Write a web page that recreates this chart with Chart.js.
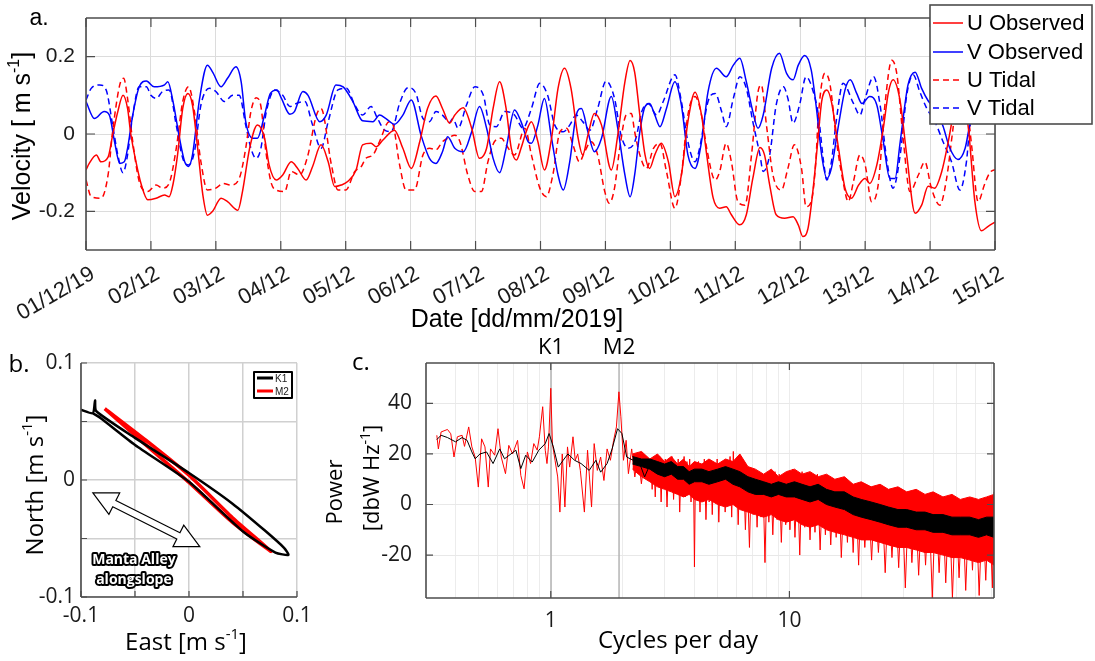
<!DOCTYPE html>
<html>
<head>
<meta charset="utf-8">
<script src="https://cdn.jsdelivr.net/npm/chart.js@4.4.0/dist/chart.umd.min.js"></script>
<style>
  body { margin: 0; background: #fff; width: 1095px; height: 661px; position: relative; overflow: hidden; }
  .panel { position: absolute; }
</style>
</head>
<body>
<div class="panel" style="left:0;top:0;width:1095px;height:340px"><canvas id="velChart"></canvas></div>
<div class="panel" style="left:0;top:330px;width:330px;height:331px"><canvas id="ellChart"></canvas></div>
<div class="panel" style="left:315px;top:330px;width:780px;height:331px"><canvas id="psdChart"></canvas></div>
<script>
// ---------- panel a: velocity time series (x = days since 01/12/19) ----------
const dateLabels = ['01/12/19','02/12','03/12','04/12','05/12','06/12','07/12','08/12','09/12','10/12','11/12','12/12','13/12','14/12','15/12']
const velTicks = [-0.2, 0, 0.2]

const uObs = [[0,-0.093],[0.05,-0.076],[0.16,-0.054],[0.23,-0.072],[0.34,-0.06],[0.41,-0.003],[0.49,0.058],[0.57,0.10],[0.64,0.066],[0.69,0],[0.77,-0.072],[0.85,-0.13],[0.95,-0.17],[1.08,-0.166],[1.21,-0.158],[1.28,-0.162],[1.34,-0.13],[1.41,-0.054],[1.49,0.066],[1.57,0.105],[1.64,0.075],[1.72,-0.037],[1.80,-0.158],[1.87,-0.21],[1.95,-0.20],[2.08,-0.166],[2.18,-0.175],[2.34,-0.197],[2.41,-0.149],[2.52,-0.037],[2.64,0.023],[2.75,-0.011],[2.82,-0.08],
  [2.93,-0.119],[3.03,-0.106],[3.16,-0.072],[3.26,-0.089],[3.39,-0.119],[3.49,-0.084],[3.62,-0.028],[3.73,-0.072],[3.83,-0.136],[3.93,-0.132],[4.03,-0.123],[4.16,-0.093],[4.26,-0.028],[4.39,-0.024],[4.47,-0.033],[4.57,-0.016],[4.75,0.01],[4.88,-0.037],[5.01,-0.089],[5.14,-0.02],[5.26,0.066],[5.39,0.098],[5.49,0.066],[5.6,0.028],
  [5.68,0.049],[5.81,0.068],[5.94,0.015],[6.06,-0.063],[6.17,-0.037],[6.27,0.066],[6.37,0.135],[6.47,0.066],[6.55,-0.037],[6.63,-0.067],[6.7,-0.037],[6.78,0.006],[6.86,0.032],[6.96,-0.02],[7.06,-0.093],[7.17,-0.011],[7.27,0.118],[7.37,0.17],[7.47,0.118],[7.58,-0.011],[7.65,-0.054],[7.73,-0.003],[7.83,0.053],[7.94,0.023],[8.09,-0.093],[8.19,-0.003],[8.3,0.135],[8.38,0.19],
  [8.45,0.16],[8.53,0.049],[8.61,-0.054],[8.68,-0.089],[8.76,-0.054],[8.86,-0.024],[8.97,-0.072],[9.07,-0.162],[9.17,-0.106],[9.27,0.032],[9.38,0.108],[9.48,0.049],[9.56,-0.054],[9.66,-0.166],[9.76,-0.192],[9.86,-0.188],[9.94,-0.209],[10.07,-0.235],[10.17,-0.209],[10.27,-0.115],[10.38,-0.035],[10.45,-0.054],[10.53,-0.132],[10.63,-0.209],[10.76,-0.218],[10.89,-0.214],[10.97,-0.235],[11.04,-0.265],[11.12,-0.244],[11.2,-0.14],
  [11.27,-0.02],[11.33,0.084],[11.41,0.114],[11.48,0.084],[11.59,-0.037],[11.69,-0.14],[11.79,-0.166],[11.9,-0.132],[12.0,-0.115],[12.07,-0.128],[12.18,-0.08],[12.28,0.015],[12.36,0.109],[12.43,0.14],[12.54,0.084],[12.64,-0.054],[12.77,-0.205],[12.87,-0.184],[12.97,-0.135],[13.07,-0.14],[13.18,-0.097],[13.28,-0.02],[13.38,0.07],[13.48,0.12],[13.59,0.015],[13.69,-0.175],[13.79,-0.25],[13.9,-0.238],[14.0,-0.228]]

const vObs = [[0,0.084],[0.13,0.04],[0.28,0.058],[0.36,0.049],[0.44,-0.02],[0.52,-0.076],[0.59,-0.072],[0.64,-0.037],[0.72,0.049],[0.82,0.122],[0.93,0.137],[1.05,0.122],[1.21,0.127],[1.26,0.135],[1.34,0.084],[1.44,-0.011],[1.52,-0.072],[1.58,-0.084],[1.64,-0.054],[1.75,0.092],[1.87,0.178],[1.95,0.16],[2.08,0.122],[2.18,0.144],[2.31,0.174],[2.39,0.135],[2.46,0.032],[2.57,-0.011],[2.64,-0.011],[2.75,0.049],[2.84,0.105],
  [2.94,0.114],[3.01,0.092],[3.14,0.051],[3.21,0.058],[3.34,0.11],[3.42,0.10],[3.6,0.032],[3.7,0.049],[3.85,0.127],[3.96,0.122],[4.11,0.084],[4.26,0.034],[4.42,0.032],[4.52,0.049],[4.62,0.04],[4.75,0.025],[4.88,0.049],[5.01,0.088],[5.16,-0.003],[5.29,-0.063],[5.39,-0.076],[5.49,-0.046],[5.57,-0.007],
  [5.68,-0.037],[5.81,-0.046],[5.94,0.006],[6.06,0.071],[6.17,0.015],[6.27,-0.063],[6.37,-0.10],[6.47,-0.037],[6.6,0.062],[6.7,0.032],[6.81,-0.02],[6.86,-0.024],[6.96,0.023],[7.06,0.092],[7.17,-0.011],[7.27,-0.106],[7.35,-0.145],[7.45,-0.072],[7.55,0.049],[7.63,0.066],[7.73,0.006],[7.83,-0.046],[7.94,-0.011],[8.09,0.097],[8.19,0.015],[8.3,-0.106],[8.38,-0.162],
  [8.45,-0.106],[8.53,0.006],[8.61,0.071],[8.68,0.079],[8.76,0.049],[8.84,0.019],[8.94,0.066],[9.07,0.135],[9.17,0.075],[9.27,-0.054],[9.38,-0.089],[9.48,-0.02],[9.58,0.109],[9.71,0.17],[9.86,0.148],[9.97,0.178],[10.07,0.196],[10.17,0.135],[10.27,0.058],[10.35,0.015],[10.43,0.049],[10.56,0.17],[10.68,0.209],[10.79,0.157],[10.89,0.14],[10.97,0.178],[11.07,0.203],[11.17,0.165],
  [11.25,0.066],[11.33,-0.054],[11.41,-0.115],[11.48,-0.089],[11.59,0.023],[11.69,0.114],[11.77,0.14],[11.87,0.105],[11.95,0.079],[12.07,0.097],[12.18,0.075],[12.28,-0.02],[12.38,-0.115],[12.46,-0.115],[12.54,-0.02],[12.66,0.127],[12.77,0.16],[12.87,0.118],[12.97,0.086],[13.1,0.06],[13.2,0.02],[13.3,-0.035],[13.43,-0.066],[13.54,-0.037],[13.62,0.03],[13.75,0.08],[13.88,0.1],[14.0,0.1]]

const uTid = [[0,-0.119],[0.08,-0.162],[0.23,-0.166],[0.34,-0.106],[0.41,0.006],[0.52,0.127],[0.58,0.144],[0.64,0.092],[0.72,-0.02],[0.82,-0.123],[0.95,-0.149],[1.08,-0.132],[1.18,-0.14],[1.28,-0.128],[1.39,-0.037],[1.49,0.084],[1.58,0.122],[1.67,0.058],[1.77,-0.072],[1.87,-0.145],[2.0,-0.14],[2.11,-0.128],[2.23,-0.132],[2.36,-0.115],[2.46,-0.037],[2.54,0.058],[2.62,0.094],[2.69,0.075],[2.77,-0.045],
  [2.85,-0.125],[2.93,-0.145],[3.06,-0.149],[3.16,-0.097],[3.29,-0.106],[3.41,-0.06],[3.55,0.049],[3.62,0.066],[3.78,-0.08],[3.88,-0.145],[4.0,-0.145],[4.14,-0.097],[4.24,-0.084],[4.31,-0.063],[4.42,-0.054],[4.52,-0.02],[4.67,0.032],[4.72,0.028],[4.83,-0.08],[4.93,-0.145],[5.06,-0.145],[5.19,-0.054],[5.29,-0.037],[5.39,-0.041],[5.49,-0.02],[5.58,-0.01],
  [5.68,-0.003],[5.76,-0.02],[5.88,-0.106],[5.99,-0.149],[6.09,-0.149],[6.19,-0.072],[6.29,-0.02],[6.4,-0.011],[6.47,-0.028],[6.6,-0.054],[6.76,0.015],[6.86,-0.054],[6.99,-0.14],[7.09,-0.162],[7.19,-0.106],[7.3,0.006],[7.4,0.015],[7.5,-0.028],[7.6,-0.072],[7.68,-0.046],[7.78,-0.02],[7.88,-0.054],[7.99,-0.149],[8.06,-0.179],[8.14,-0.14],[8.22,-0.037],[8.32,0.049],[8.4,0.053],
  [8.45,0.006],[8.53,-0.054],[8.63,-0.089],[8.74,-0.037],[8.84,-0.024],[8.94,-0.097],[9.07,-0.192],[9.17,-0.106],[9.27,0.049],[9.38,0.097],[9.48,0.049],[9.56,-0.037],[9.69,-0.119],[9.76,-0.097],[9.86,-0.024],[9.94,-0.072],[10.04,-0.175],[10.15,-0.184],[10.25,-0.054],[10.35,0.109],[10.4,0.127],[10.48,0.023],[10.58,-0.106],[10.71,-0.145],[10.81,-0.089],[10.91,-0.028],[11.02,-0.089],[11.09,-0.188],[11.17,-0.175],[11.24,-0.072],
  [11.28,0.049],[11.38,0.157],[11.46,0.127],[11.56,-0.02],[11.66,-0.123],[11.74,-0.175],[11.82,-0.123],[11.92,-0.054],[12.0,-0.08],[12.1,-0.175],[12.2,-0.132],[12.31,0.084],[12.41,0.191],[12.49,0.153],[12.59,-0.02],[12.69,-0.149],[12.82,-0.106],[12.92,-0.072],[13.02,-0.14],[13.15,-0.184],[13.25,-0.12],[13.35,0.01],[13.45,0.14],[13.55,0.1],[13.64,-0.03],[13.74,-0.175],[13.84,-0.13],[13.92,-0.1],[14.0,-0.092]]

const vTid = [[0,0.088],[0.08,0.118],[0.21,0.127],[0.31,0.114],[0.41,0.023],[0.49,-0.054],[0.57,-0.10],[0.64,-0.054],[0.72,0.049],[0.82,0.122],[0.93,0.122],[1.0,0.10],[1.08,0.092],[1.18,0.11],[1.28,0.114],[1.39,0.023],[1.49,-0.063],[1.58,-0.08],[1.67,-0.046],[1.77,0.075],[1.9,0.118],[2.0,0.11],[2.13,0.084],[2.26,0.10],[2.36,0.10],[2.46,0.023],[2.54,-0.037],[2.62,-0.063],[2.69,-0.04],[2.78,0.06],
  [2.91,0.114],[3.03,0.10],[3.14,0.071],[3.24,0.079],[3.37,0.084],[3.49,0.023],[3.62,-0.037],[3.73,0.032],[3.88,0.114],[4.01,0.118],[4.14,0.075],[4.26,0.049],[4.39,0.071],[4.49,0.04],[4.6,0.01],[4.7,0.006],[4.83,0.079],[4.96,0.12],[5.08,0.105],[5.19,0.04],[5.29,0.032],[5.39,0.058],[5.49,0.049],[5.6,0.03],
  [5.65,0.04],[5.73,0.015],[5.86,0.075],[5.99,0.122],[6.12,0.10],[6.22,0.023],[6.32,0.019],[6.45,0.058],[6.6,0.049],[6.73,0.015],[6.86,0.066],[6.99,0.131],[7.11,0.10],[7.22,0.023],[7.35,0.006],[7.45,0.023],[7.55,0.049],[7.65,0.032],[7.76,0.01],[7.88,0.066],[8.01,0.137],[8.14,0.092],[8.24,-0.003],[8.35,-0.037],[8.42,-0.03],
  [8.47,-0.011],[8.56,0.058],[8.66,0.079],[8.79,0.049],[8.89,0.084],[9.07,0.153],[9.17,0.084],[9.27,-0.02],[9.38,-0.072],[9.45,-0.037],[9.58,0.084],[9.69,0.105],[9.79,0.058],[9.86,0.019],[9.97,0.092],[10.07,0.148],[10.17,0.118],[10.27,0.032],[10.38,-0.054],[10.43,-0.097],[10.53,-0.054],[10.63,0.075],[10.74,0.122],[10.81,0.092],[10.89,0.028],[10.99,0.075],[11.09,0.148],[11.2,0.11],
  [11.28,0.049],[11.36,-0.072],[11.41,-0.119],[11.48,-0.072],[11.56,0.04],[11.66,0.131],[11.82,0.079],[11.92,0.049],[12.0,0.092],[12.13,0.148],[12.23,0.075],[12.33,-0.063],[12.43,-0.14],[12.54,-0.054],[12.64,0.10],[12.74,0.153],[12.84,0.11],[12.95,0.066],[13.08,0.03],[13.2,-0.02],[13.33,-0.072],[13.46,-0.145],[13.56,-0.072],[13.61,0.015],[13.75,0.09],[13.88,0.1],[14.0,0.08]]

// ---------- panel b: tidal ellipses ----------
const ellTicks = [-0.1, -0.05, 0, 0.05, 0.1]
const ellLabelled = [-0.1, 0, 0.1]
const k1Ellipse = [[-0.1,0.060],[-0.089,0.057],[-0.087,0.068],[-0.086,0.059],[-0.05,0.036],[0,0.006],[0.04,-0.02],[0.07,-0.043],[0.088,-0.058],[0.092,-0.064],[0.08,-0.062],[0.05,-0.044],[0,-0.0015],[-0.05,0.030],[-0.082,0.053],[-0.089,0.057]]
const m2Ellipse = [[-0.078,0.061],[-0.04,0.034],[0,0.004],[0.04,-0.032],[0.076,-0.061],[0.04,-0.036],[0,-0.002],[-0.04,0.030],[-0.078,0.061]]
const alongslopeArrow = [[-0.089,-0.011],[0.010,-0.057]]
const alongslopeLabel = [-0.051, -0.068]

// ---------- panel c: power spectra [cycles/day, dbW/Hz] ----------
const psdTicks = [0.4,0.5,0.6,0.7,0.8,0.9,1,2,3,4,5,6,7,8,9,10,20,30,40,50,60,70]
const psdLabelled = [1, 10]
const powTicks = [-20, 0, 20, 40]
const tideNames = ['K1', 'M2']
const tideFreqs = [1.0027, 1.9323]

const psdRed = [[0.333,27.4],[0.338,22],[0.347,28.7],[0.369,29.7],[0.381,28],[0.393,18.8],[0.406,26.8],[0.425,27.4],[0.435,23],[0.453,30.7],[0.467,22.8],[0.482,18.8],[0.497,6.9],[0.513,26],[0.53,22.8],[0.547,6.9],[0.559,22],[0.582,19.5],[0.601,30],[0.62,18.8],[0.646,12.2],[0.667,23.4],[0.692,20],[0.726,25.4],[0.749,11.5],[0.773,6.2],[0.798,20.8],[0.823,16.2],[0.849,24.1],[0.877,21.5],[0.896,26.8],[0.925,38.7],[0.948,21.5],[0.964,16.2],[0.978,22.8],[1.0,46],[1.016,24],[1.042,17.5],[1.069,10.9],[1.092,-3],[1.117,20],[1.146,-1],[1.175,22.8],[1.2,14.8],[1.239,26.8],[1.266,17.5],[1.297,20],[1.33,13.5],[1.383,-3],[1.426,21.5],[1.482,-1],[1.52,24.1],[1.567,13.5],[1.618,18.8],[1.67,9.5],[1.722,22],[1.778,17.5],[1.834,25.4],[1.884,30.7],[1.93,44.6],[1.967,34.7],[2.017,17.5],[2.069,25.4],[2.115,12.2],[2.183,22],[2.25,10.9],[2.322,20],[2.397,8.2],[2.473,18.8],[2.553,14.8],
  [2.62,16],[2.66,6],[2.7,18],[2.74,3],[2.78,17],[2.82,9],[2.86,19],[2.9,1],[2.94,16],[2.98,7],[3.02,18],[3.07,-1],[3.12,17],[3.17,6],[3.22,19],[3.27,2],[3.32,15],[3.37,8],[3.42,18],[3.47,-3],[3.52,16],[3.57,5],[3.62,19],[3.67,3],[3.72,17],[3.77,7],[3.82,18],[3.87,1],[3.92,15],[3.97,6],[4.0,-24.7],[4.04,14],
  [4.1,2],[4.16,17],[4.22,-3],[4.28,16],[4.34,4],[4.4,18],[4.47,-6],[4.54,15],[4.61,1],[4.68,17],[4.75,-4],[4.82,16],[4.9,2],[4.98,18],[5.06,-7],[5.14,15],[5.22,0],[5.3,17],[5.38,-3],[5.46,16],[5.55,1],[5.64,19],[5.73,-5],[5.82,21],[5.91,0],[6.0,16],
  [6.1,-8],[6.2,15],[6.3,-2],[6.42,14],[6.54,-10],[6.66,12],[6.8,-17],[6.92,11],[7.05,-4],[7.18,13],[7.32,-9],[7.46,12],[7.6,-5],[7.75,11],[7.9,-23],[8.05,12],[8.2,-7],[8.36,11],[8.52,-12],[8.7,13],[8.88,-6],[9.06,12],[9.25,-15],[9.45,11],[9.65,-8],[9.85,13],
  [10.05,-10],[10.3,14],[10.55,-13],[10.8,12],[11.05,-20],[11.3,13],[11.6,-9],[11.9,12],[12.2,-14],[12.5,11],[12.8,-11],[13.1,12],[13.45,-18],[13.8,10],[14.15,-12],[14.5,11],[14.9,-16],[15.3,9],[15.7,-13],[16.1,10],[16.5,-21],[17,9],[17.5,-15],[18,8],[18.5,-19],[19,7],[19.5,-24],
  [20,8],[20.7,-17],[21.4,6],[22.1,-22],[22.8,6],[23.6,-19],[24.4,5],[25.2,-27],[26,5],[26.9,-21],[27.8,4],[28.7,-25],[29.6,5],[30.6,-33],[31.6,4],[32.6,-23],[33.7,3],[34.8,-28],[36,4],[37.2,-24],[38.4,2],[39.7,-37],[41,3],[42.4,-27],[43.8,2],[45.2,-31],[46.7,3],[48.2,-37],[49.8,1],[51.4,-29],[53.1,2],[54.8,-34],[56.6,1],[58.5,-26],[60.4,2],[62.4,-36],[64.4,1],[66.5,-30],[68.7,3],[70.9,-33],[72,5]]

const psdBlack = [[0.333,25.7],[0.347,27.4],[0.369,26.5],[0.399,24.8],[0.425,26.5],[0.446,25.4],[0.467,20.8],[0.482,18.1],[0.505,20],[0.538,20.8],[0.573,16.2],[0.611,22],[0.64,18.1],[0.681,20],[0.714,21.5],[0.749,14.2],[0.785,19.5],[0.836,16.8],[0.891,21.5],[0.948,24.1],[0.984,28.1],[1.025,22.8],[1.075,14.8],[1.127,17.5],[1.18,20],[1.258,17.5],[1.34,16.2],[1.449,13.5],[1.545,17.5],[1.618,12.8],[1.722,16.2],[1.807,22],[1.905,30],[1.986,28.1],[2.081,18.8],[2.216,17.5],[2.36,16.2],[2.473,10.9],[2.576,14.8]]

// dense high-frequency part: ragged envelopes of the red and black bands
const bandFreq = [2.2, 2.4, 2.6, 2.8, 3.0, 3.2, 3.4, 3.6, 3.8, 4.0, 4.3, 4.6, 5.0, 5.4, 5.8, 6.2, 6.7, 7.2, 7.8, 8.4, 9.0, 9.7, 10.5, 11.3, 12.2, 13.2, 14.3, 15.5, 17, 18.5, 20, 22, 24, 26, 28.5, 31, 34, 37, 40, 44, 48, 52, 57, 62, 67, 72]
const redHi   = [20, 21, 18, 20, 17, 19, 16, 18, 15, 17, 16, 18, 16, 18, 17, 20, 15, 14, 12, 14, 11, 13, 14, 12, 13, 11, 12, 10, 11, 8, 9, 7, 8, 6, 7, 5, 6, 4, 5, 3, 4, 2, 3, 2, 3, 4]
const redLo   = [14, 11, 9, 7, 6, 5, 4, 3, 4, 2, 1, 2, 0, -1, 0, -2, -3, -4, -5, -4, -6, -7, -6, -8, -9, -8, -10, -11, -12, -13, -14, -14, -15, -16, -17, -17, -18, -19, -19, -20, -21, -21, -22, -23, -22, -24]
const blackHi = [19, 18, 18, 17, 16, 17, 15, 15, 13, 14, 14, 13, 14, 15, 14, 13, 11, 10, 9, 8, 9, 8, 9, 8, 7, 8, 6, 5, 5, 3, 2, 1, 0, -1, -2, -2, -3, -3, -4, -4, -5, -5, -5, -6, -5, -5]
const blackLo = [16, 15, 14, 12, 11, 12, 10, 10, 8, 9, 9, 8, 9, 10, 8, 7, 5, 4, 4, 3, 4, 3, 3, 2, 1, 2, 0, -1, -2, -4, -5, -6, -7, -8, -9, -9, -10, -10, -11, -11, -12, -12, -12, -13, -12, -13]

// ---------- helpers ----------
const FA = '"Liberation Sans", Arial, sans-serif'
const FB = '"Open Sans", "Noto Sans", sans-serif'
const AXIS = '#4d4d4d'

const pairs = arr => arr.map(([x, y]) => ({ x: x, y: y }))
const zip = (xs, ys) => xs.map((x, i) => ({ x: x, y: ys[i] }))

// fixed axis box sizes so the plot areas land where the figure has them
const fixBox = size => s => {
  if (s.isHorizontal()) s.height = size
  else s.width = size
  s.paddingLeft = 0; s.paddingRight = 0; s.paddingTop = 0; s.paddingBottom = 0
}

// text with ^{..} superscripts, centred on (x, y)
function richText(ctx, str, x, y, size, family, rot, weight) {
  const parts = str.split(/\^\{([^}]*)\}/)
  const supSize = Math.round(size * 0.62)
  const w = weight || ''
  ctx.save()
  ctx.translate(x, y)
  if (rot) ctx.rotate(rot)
  ctx.textBaseline = 'middle'
  ctx.textAlign = 'left'
  ctx.fillStyle = '#000'
  const widths = parts.map((t, i) => {
    ctx.font = w + ' ' + (i % 2 ? supSize : size) + 'px ' + family
    return ctx.measureText(t).width
  })
  let cx = -widths.reduce((a, b) => a + b, 0) / 2
  parts.forEach((t, i) => {
    ctx.font = w + ' ' + (i % 2 ? supSize : size) + 'px ' + family
    ctx.fillText(t, cx, i % 2 ? -size * 0.33 : 0)
    cx += widths[i]
  })
  ctx.restore()
}

function innerTicks(chart, axis, values, len, sides) {
  const ctx = chart.ctx, a = chart.chartArea, s = chart.scales[axis]
  ctx.save()
  ctx.strokeStyle = AXIS
  ctx.lineWidth = 1.2
  ctx.beginPath()
  values.forEach(v => {
    const p = s.getPixelForValue(v)
    if (axis === 'x') {
      if (sides.includes('b')) { ctx.moveTo(p, a.bottom); ctx.lineTo(p, a.bottom - len) }
      if (sides.includes('t')) { ctx.moveTo(p, a.top); ctx.lineTo(p, a.top + len) }
    } else {
      if (sides.includes('l')) { ctx.moveTo(a.left, p); ctx.lineTo(a.left + len, p) }
      if (sides.includes('r')) { ctx.moveTo(a.right, p); ctx.lineTo(a.right - len, p) }
    }
  })
  ctx.stroke()
  ctx.restore()
}

function frame(chart, sides) {
  const ctx = chart.ctx, a = chart.chartArea
  ctx.save()
  ctx.strokeStyle = AXIS
  ctx.lineWidth = 1.6
  ctx.beginPath()
  if (sides.includes('t')) { ctx.moveTo(a.left, a.top); ctx.lineTo(a.right, a.top) }
  if (sides.includes('r')) { ctx.moveTo(a.right, a.top); ctx.lineTo(a.right, a.bottom) }
  if (sides.includes('b')) { ctx.moveTo(a.left, a.bottom); ctx.lineTo(a.right, a.bottom) }
  if (sides.includes('l')) { ctx.moveTo(a.left, a.top); ctx.lineTo(a.left, a.bottom) }
  ctx.stroke()
  ctx.restore()
}

Chart.defaults.animation = false
Chart.defaults.devicePixelRatio = 1
Chart.defaults.color = '#1a1a1a'
Chart.defaults.plugins.legend.display = false
Chart.defaults.plugins.tooltip.enabled = false
Chart.defaults.elements.point.radius = 0

// ---------- panel a ----------
const velSeries = [
  { label: 'U Observed', pts: uObs, color: '#ff0000', dash: [] },
  { label: 'V Observed', pts: vObs, color: '#0000ff', dash: [] },
  { label: 'U Tidal', pts: uTid, color: '#ff0000', dash: [6, 4] },
  { label: 'V Tidal', pts: vTid, color: '#0000ff', dash: [6, 4] }
]

const velDecor = {
  id: 'velDecor',
  afterDraw(chart) {
    const ctx = chart.ctx
    frame(chart, 'trbl')
    innerTicks(chart, 'x', dateLabels.map((_, i) => i), 9, 'bt')
    innerTicks(chart, 'y', velTicks, 9, 'lr')
    richText(ctx, 'a.', 39, 19, 23, FA)
    richText(ctx, 'Velocity [ m s^{-1}]', 23, 136, 25, FA, -Math.PI / 2)
    richText(ctx, 'Date [dd/mm/2019]', 517, 320, 25, FA)
    // legend box in the top right corner
    const lx = 930, ly = 5, lw = 162, lh = 119
    ctx.save()
    ctx.fillStyle = '#fff'
    ctx.fillRect(lx, ly, lw, lh)
    ctx.strokeStyle = AXIS
    ctx.lineWidth = 1.6
    ctx.strokeRect(lx, ly, lw, lh)
    const rows = [23, 52, 80, 108]
    chart.data.datasets.forEach((ds, i) => {
      ctx.strokeStyle = ds.borderColor
      ctx.lineWidth = 1.5
      ctx.setLineDash(ds.borderDash)
      ctx.beginPath()
      ctx.moveTo(lx + 3, rows[i]); ctx.lineTo(lx + 33, rows[i])
      ctx.stroke()
      ctx.setLineDash([])
      ctx.fillStyle = '#000'
      ctx.font = '22px ' + FA
      ctx.textBaseline = 'middle'
      ctx.textAlign = 'left'
      ctx.fillText(ds.label, lx + 37, rows[i] + 1)
    })
    ctx.restore()
  }
}

new Chart(document.getElementById('velChart'), {
  type: 'line',
  data: {
    datasets: velSeries.map(s => ({
      label: s.label,
      data: pairs(s.pts),
      borderColor: s.color,
      borderDash: s.dash,
      borderWidth: 1.5,
      cubicInterpolationMode: 'monotone',
      fill: false
    }))
  },
  options: {
    responsive: true,
    maintainAspectRatio: false,
    layout: { padding: { top: 18, right: 100, left: 0, bottom: 0 } },
    scales: {
      x: {
        type: 'linear', min: 0, max: 14,
        afterBuildTicks: s => { s.ticks = dateLabels.map((_, i) => ({ value: i })) },
        afterFit: fixBox(90),
        ticks: { callback: v => dateLabels[v], minRotation: 30, maxRotation: 30, autoSkip: false, padding: 11, labelOffset: 7, font: { family: FA, size: 22 }, color: '#1a1a1a' },
        grid: { color: '#dcdcdc', drawTicks: false },
        border: { display: false }
      },
      y: {
        min: -0.3, max: 0.3,
        afterBuildTicks: s => { s.ticks = velTicks.map(v => ({ value: v })) },
        afterFit: fixBox(86),
        ticks: { callback: v => String(v), padding: 11, font: { family: FA, size: 21 }, color: '#1a1a1a' },
        grid: { color: '#dcdcdc', drawTicks: false },
        border: { display: false }
      }
    }
  },
  plugins: [velDecor]
})

// ---------- panel b ----------
const ellDecor = {
  id: 'ellDecor',
  afterDraw(chart) {
    const ctx = chart.ctx, sx = chart.scales.x, sy = chart.scales.y
    frame(chart, 'bl')
    innerTicks(chart, 'x', ellTicks, 6, 'b')
    innerTicks(chart, 'y', ellTicks, 6, 'l')
    // double headed alongslope arrow
    const ax = sx.getPixelForValue(alongslopeArrow[0][0]), ay = sy.getPixelForValue(alongslopeArrow[0][1])
    const bx = sx.getPixelForValue(alongslopeArrow[1][0]), by = sy.getPixelForValue(alongslopeArrow[1][1])
    const L = Math.hypot(bx - ax, by - ay), ux = (bx - ax) / L, uy = (by - ay) / L, nx = -uy, ny = ux
    const hl = 24, hw = 12, sw = 3.5
    const P = (d, o) => [ax + ux * d + nx * o, ay + uy * d + ny * o]
    const poly = [P(0, 0), P(hl, hw), P(hl, sw), P(L - hl, sw), P(L - hl, hw), P(L, 0), P(L - hl, -hw), P(L - hl, -sw), P(hl, -sw), P(hl, -hw)]
    ctx.save()
    ctx.beginPath()
    poly.forEach((p, i) => i ? ctx.lineTo(p[0], p[1]) : ctx.moveTo(p[0], p[1]))
    ctx.closePath()
    ctx.fillStyle = '#fff'
    ctx.fill()
    ctx.strokeStyle = '#000'
    ctx.lineWidth = 1.2
    ctx.stroke()
    // outlined label
    const tx = sx.getPixelForValue(alongslopeLabel[0]), ty = sy.getPixelForValue(alongslopeLabel[1])
    ctx.font = 'bold 14px ' + FB
    ctx.textAlign = 'center'
    ctx.textBaseline = 'middle'
    ctx.lineJoin = 'round'
    ctx.lineWidth = 4
    ctx.strokeStyle = '#000'
    ctx.fillStyle = '#fff'
    ;['Manta Alley', 'alongslope'].forEach((t, i) => {
      ctx.strokeText(t, tx, ty + i * 20)
      ctx.fillText(t, tx, ty + i * 20)
    })
    // small legend
    ctx.fillStyle = '#fff'
    ctx.fillRect(254, 42, 38, 26)
    ctx.strokeStyle = '#000'
    ctx.lineWidth = 2
    ctx.strokeRect(254, 42, 38, 26)
    chart.data.datasets.forEach((ds, i) => {
      const yy = 48 + i * 13
      ctx.strokeStyle = ds.borderColor
      ctx.lineWidth = 3
      ctx.beginPath(); ctx.moveTo(257, yy); ctx.lineTo(273, yy); ctx.stroke()
      ctx.fillStyle = '#222'
      ctx.font = '10px ' + FA
      ctx.textAlign = 'left'
      ctx.fillText(ds.label, 275, yy + 1)
    })
    ctx.restore()
    richText(ctx, 'b.', 19, 35, 24, FB)
    richText(ctx, 'East [m s^{-1}]', 186, 313, 24, FB)
    richText(ctx, 'North [m s^{-1}]', 36, 155, 24, FB, -Math.PI / 2)
  }
}

new Chart(document.getElementById('ellChart'), {
  type: 'scatter',
  data: {
    datasets: [
      { label: 'K1', data: pairs(k1Ellipse), showLine: true, borderColor: '#000', borderWidth: 2.5, tension: 0.2 },
      { label: 'M2', data: pairs(m2Ellipse), showLine: true, borderColor: '#ff0000', borderWidth: 3.5, tension: 0.2 }
    ]
  },
  options: {
    responsive: true,
    maintainAspectRatio: false,
    layout: { padding: { top: 33, right: 33, left: 0, bottom: 0 } },
    scales: {
      x: {
        type: 'linear', min: -0.1, max: 0.1,
        afterBuildTicks: s => { s.ticks = ellTicks.map(v => ({ value: v })) },
        afterFit: fixBox(64),
        ticks: { callback: v => ellLabelled.includes(v) ? String(v) : '', padding: 6, autoSkip: false, maxRotation: 0, font: { family: FB, size: 21 }, color: '#1a1a1a' },
        grid: { color: '#d0d0d0', lineWidth: 1.5, drawTicks: false },
        border: { display: false }
      },
      y: {
        min: -0.1, max: 0.1,
        afterBuildTicks: s => { s.ticks = ellTicks.map(v => ({ value: v })) },
        afterFit: fixBox(81),
        ticks: { callback: v => ellLabelled.includes(v) ? String(v) : '', padding: 6, font: { family: FB, size: 21 }, color: '#1a1a1a' },
        grid: { color: '#d0d0d0', lineWidth: 1.5, drawTicks: false },
        border: { display: false }
      }
    }
  },
  plugins: [ellDecor]
})

// ---------- panel c ----------
const psdDecor = {
  id: 'psdDecor',
  beforeDatasetsDraw(chart) {
    const ctx = chart.ctx, a = chart.chartArea, sx = chart.scales.x
    ctx.save()
    ctx.strokeStyle = '#b4b4b4'
    ctx.lineWidth = 1.5
    tideFreqs.forEach(f => {
      const p = sx.getPixelForValue(f)
      ctx.beginPath(); ctx.moveTo(p, a.top); ctx.lineTo(p, a.bottom); ctx.stroke()
    })
    ctx.restore()
  },
  afterDraw(chart) {
    const ctx = chart.ctx, sx = chart.scales.x
    frame(chart, 'trbl')
    innerTicks(chart, 'x', psdLabelled, 7, 'bt')
    innerTicks(chart, 'y', powTicks, 7, 'lr')
    tideNames.forEach((n, i) => richText(ctx, n, sx.getPixelForValue(tideFreqs[i]), 18, 22, FB))
    richText(ctx, 'c.', 46, 33, 24, FB)
    richText(ctx, 'Power', 21, 162, 22, FB, -Math.PI / 2)
    richText(ctx, '[dbW Hz^{-1}]', 58, 148, 22, FB, -Math.PI / 2)
    richText(ctx, 'Cycles per day', 363, 311, 24, FB)
  }
}

new Chart(document.getElementById('psdChart'), {
  type: 'line',
  data: {
    datasets: [
      { data: pairs(psdBlack), borderColor: '#000', borderWidth: 1, order: 1 },
      { data: zip(bandFreq, blackHi), borderColor: '#000', borderWidth: 1, backgroundColor: '#000', fill: '+1', order: 2 },
      { data: zip(bandFreq, blackLo), borderColor: '#000', borderWidth: 1, order: 2 },
      { data: pairs(psdRed), borderColor: '#ff0000', borderWidth: 1, order: 3 },
      { data: zip(bandFreq, redHi), borderColor: '#ff0000', borderWidth: 1, backgroundColor: '#ff0000', fill: '+1', order: 4 },
      { data: zip(bandFreq, redLo), borderColor: '#ff0000', borderWidth: 1, order: 4 }
    ]
  },
  options: {
    responsive: true,
    maintainAspectRatio: false,
    layout: { padding: { top: 33, right: 101, left: 0, bottom: 0 } },
    scales: {
      x: {
        type: 'logarithmic', min: 0.333, max: 72,
        afterBuildTicks: s => { s.ticks = psdTicks.map(v => ({ value: v })) },
        afterFit: fixBox(63),
        ticks: { callback: v => psdLabelled.includes(v) ? String(v) : '', padding: 10, autoSkip: false, maxRotation: 0, font: { family: FB, size: 21 }, color: '#1a1a1a' },
        grid: { color: '#ececec', drawTicks: false },
        border: { display: false }
      },
      y: {
        min: -37, max: 56,
        afterBuildTicks: s => { s.ticks = powTicks.map(v => ({ value: v })) },
        afterFit: fixBox(111),
        ticks: { callback: v => String(v), padding: 14, font: { family: FB, size: 21 }, color: '#1a1a1a' },
        grid: { color: '#e8e8e8', drawTicks: false },
        border: { display: false }
      }
    }
  },
  plugins: [psdDecor]
})
</script>
</body>
</html>
